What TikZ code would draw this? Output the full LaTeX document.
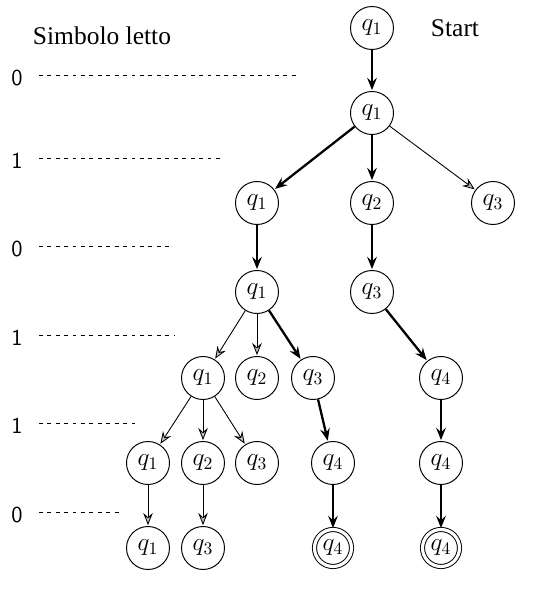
\documentclass[tikz,border=0pt]{standalone}
\usepackage{amsmath, amssymb}
\usepackage{fontspec}
\setmainfont{Liberation Serif}
\usepackage{tikz}
\tikzset{node distance=2cm, auto}
\usetikzlibrary{arrows.meta}
\usetikzlibrary{positioning}

\tikzset{
  statenode/.style={circle, draw, line width=0.55pt, minimum size=0.86cm, inner sep=0pt, font=\Large},
  finalnode/.style={statenode, double, double distance=1.8pt, minimum size=0.74cm},
  move/.style={-{Stealth[length=7pt,width=5.5pt,inset=2.5pt,fill=gray!45]}, line width=0.5pt, shorten >=0.5pt},
  bestmove/.style={move, line width=1.3pt},
  levelline/.style={line width=0.5pt, dash pattern=on 2.2pt off 2.6pt},
  symbol/.style={font=\fontsize{13}{15}\selectfont\sffamily}
}

\begin{document}
\begin{tikzpicture}
\useasboundingbox (0,0) rectangle (10.72,-11.8);

% the tree of states
\node[statenode] (A)  at (7.44,-0.56) {$q_1$};
\node[statenode] (B)  at (7.44,-2.26) {$q_1$};

\node[statenode] (C1) at (5.14,-4.06) {$q_1$};
\node[statenode] (C2) at (7.44,-4.06) {$q_2$};
\node[statenode] (C3) at (9.86,-4.06) {$q_3$};

\node[statenode] (D1) at (5.14,-5.84) {$q_1$};
\node[statenode] (D2) at (7.44,-5.84) {$q_3$};

\node[statenode] (E1) at (4.06,-7.56) {$q_1$};
\node[statenode] (E2) at (5.14,-7.56) {$q_2$};
\node[statenode] (E3) at (6.26,-7.56) {$q_3$};
\node[statenode] (E4) at (8.82,-7.56) {$q_4$};

\node[statenode] (F1) at (2.96,-9.26) {$q_1$};
\node[statenode] (F2) at (4.06,-9.26) {$q_2$};
\node[statenode] (F3) at (5.14,-9.26) {$q_3$};
\node[statenode] (F4) at (6.66,-9.26) {$q_4$};
\node[statenode] (F5) at (8.82,-9.26) {$q_4$};

\node[statenode] (G1) at (2.96,-10.96) {$q_1$};
\node[statenode] (G2) at (4.06,-10.96) {$q_3$};
\node[finalnode] (G3) at (6.66,-10.96) {$q_4$};
\node[finalnode] (G4) at (8.82,-10.96) {$q_4$};

\draw[bestmove] (A) -- (B);
\draw[bestmove] (B) -- (C1);
\draw[bestmove] (B) -- (C2);
\draw[move]     (B) -- (C3);
\draw[bestmove] (C1) -- (D1);
\draw[bestmove] (C2) -- (D2);
\draw[move]     (D1) -- (E1);
\draw[move]     (D1) -- (E2);
\draw[bestmove] (D1) -- (E3);
\draw[bestmove] (D2) -- (E4);
\draw[move]     (E1) -- (F1);
\draw[move]     (E1) -- (F2);
\draw[move]     (E1) -- (F3);
\draw[bestmove] (E3) -- (F4);
\draw[bestmove] (E4) -- (F5);
\draw[move]     (F1) -- (G1);
\draw[move]     (F2) -- (G2);
\draw[bestmove] (F4) -- (G3);
\draw[bestmove] (F5) -- (G4);

\node[font=\fontsize{14.5}{17}\selectfont] (start) at (9.1,-0.56) {Start};
\node[font=\fontsize{14.5}{17}\selectfont] (title) at (2.04,-0.72) {Simbolo letto};

% symbols read, one per level
\node[symbol] (S0) at (0.34,-1.56) {0};
\node[symbol] (S1) at (0.34,-3.22) {1};
\node[symbol] (S2) at (0.34,-4.98) {0};
\node[symbol] (S3) at (0.34,-6.76) {1};
\node[symbol] (S4) at (0.34,-8.52) {1};
\node[symbol] (S5) at (0.34,-10.30) {0};

\coordinate (e0) at (5.94,-1.5);
\coordinate (e1) at (4.44,-3.16);
\coordinate (e2) at (3.40,-4.92);
\coordinate (e3) at (3.50,-6.70);
\coordinate (e4) at (2.70,-8.46);
\coordinate (e5) at (2.40,-10.24);

\draw[levelline] (S0.east |- e0) ++(0.2,0) -- (e0);
\draw[levelline] (S1.east |- e1) ++(0.2,0) -- (e1);
\draw[levelline] (S2.east |- e2) ++(0.2,0) -- (e2);
\draw[levelline] (S3.east |- e3) ++(0.2,0) -- (e3);
\draw[levelline] (S4.east |- e4) ++(0.2,0) -- (e4);
\draw[levelline] (S5.east |- e5) ++(0.2,0) -- (e5);
\end{tikzpicture}
\end{document}
